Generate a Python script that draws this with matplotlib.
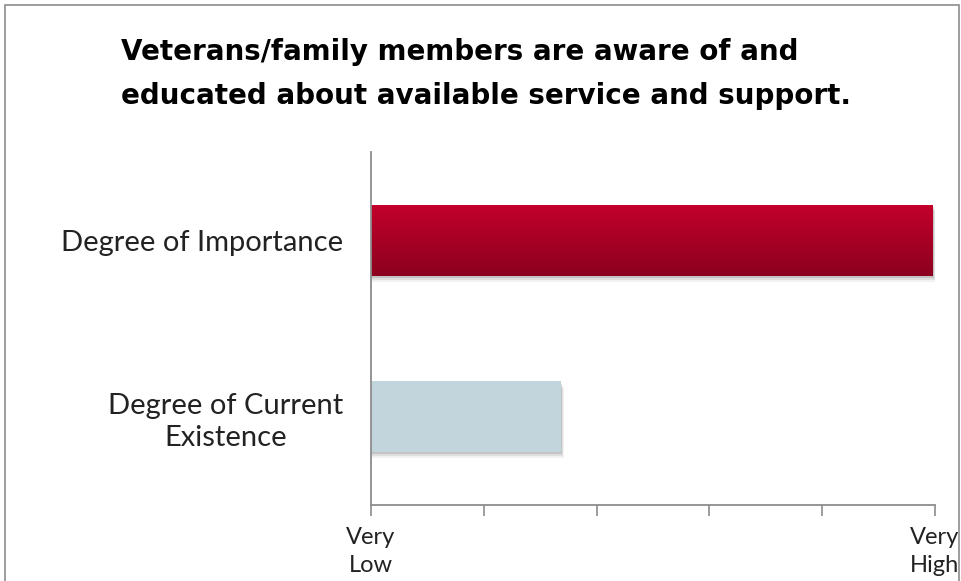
import matplotlib.pyplot as plt
import numpy as np
from matplotlib.patches import Rectangle

title = "Veterans/family members are aware of and\neducated about available service and support."
categories = ["Degree of Current\nExistence", "Degree of Importance"]
scores = [1.68, 4.98]
tick_pos = [0, 1, 2, 3, 4, 5]
tick_labels = ["Very\nLow", "", "", "", "", "Very\nHigh"]

W, H = 961, 581
fig = plt.figure(figsize=(W / 100, H / 100), dpi=100)

# outer frame, bottom edge runs off the image
fig.patches.append(Rectangle((5 / W, -0.1), 954 / W, 1.1 - 5 / H, transform=fig.transFigure,
                             fill=False, edgecolor="#8c8c8c", linewidth=1.2))

ax = fig.add_axes([371 / W, 1 - 505 / H, (935 - 371) / W, (505 - 152) / H])

ypos = np.arange(len(categories))
bar_h = 0.4

# soft drop shadows
for y, v in zip(ypos, scores):
    for k, a in enumerate([0.12, 0.08, 0.05]):
        d = 0.012 * (k + 1)
        ax.add_patch(Rectangle((0.0, y - bar_h / 2 - d), v + 0.01 * (k + 1), bar_h, facecolor="#000000",
                               alpha=a, edgecolor="none", zorder=1))

bars = ax.barh(ypos, scores, height=bar_h, color=["#c2d4dc", "#b0002a"], zorder=2)

# vertical gradient on the importance bar (bright at top, darker below)
grad = np.linspace(0, 1, 100).reshape(-1, 1)
top = np.array([0.76, 0.0, 0.17])
bot = np.array([0.55, 0.0, 0.12])
img = top + (bot - top) * grad[:, :, None]
im = ax.imshow(img, extent=(0, scores[1], ypos[1] - bar_h / 2, ypos[1] + bar_h / 2),
               aspect="auto", zorder=3, interpolation="bilinear", origin="upper")
im.set_clip_path(bars[1])
ax.set_xlim(0, 5)
ax.set_ylim(-0.5, 1.5)

for s in ["top", "right"]:
    ax.spines[s].set_visible(False)
for s in ["left", "bottom"]:
    ax.spines[s].set_color("#8c8c8c")
    ax.spines[s].set_linewidth(1.3)
ax.spines["left"].set_zorder(5)

ax.set_yticks(ypos)
ax.set_yticklabels(categories, fontsize=21, family="Lato",
                   color="#222222", linespacing=1.25)
ax.tick_params(axis="y", length=0, pad=20)
for lbl in ax.get_yticklabels():
    lbl.set_multialignment("center")

ax.set_xticks(tick_pos)
ax.set_xticklabels(tick_labels, fontsize=17, family="Lato",
                   color="#222222", linespacing=1.4)
ax.tick_params(axis="x", length=8, width=1.2, color="#8c8c8c", pad=8)

fig.text(121 / W, 1 - 38 / H, title, fontsize=20, fontweight="bold", family="DejaVu Sans",
         va="top", ha="left", linespacing=1.72, color="#000000")

fig.savefig("out.png", dpi=100)
